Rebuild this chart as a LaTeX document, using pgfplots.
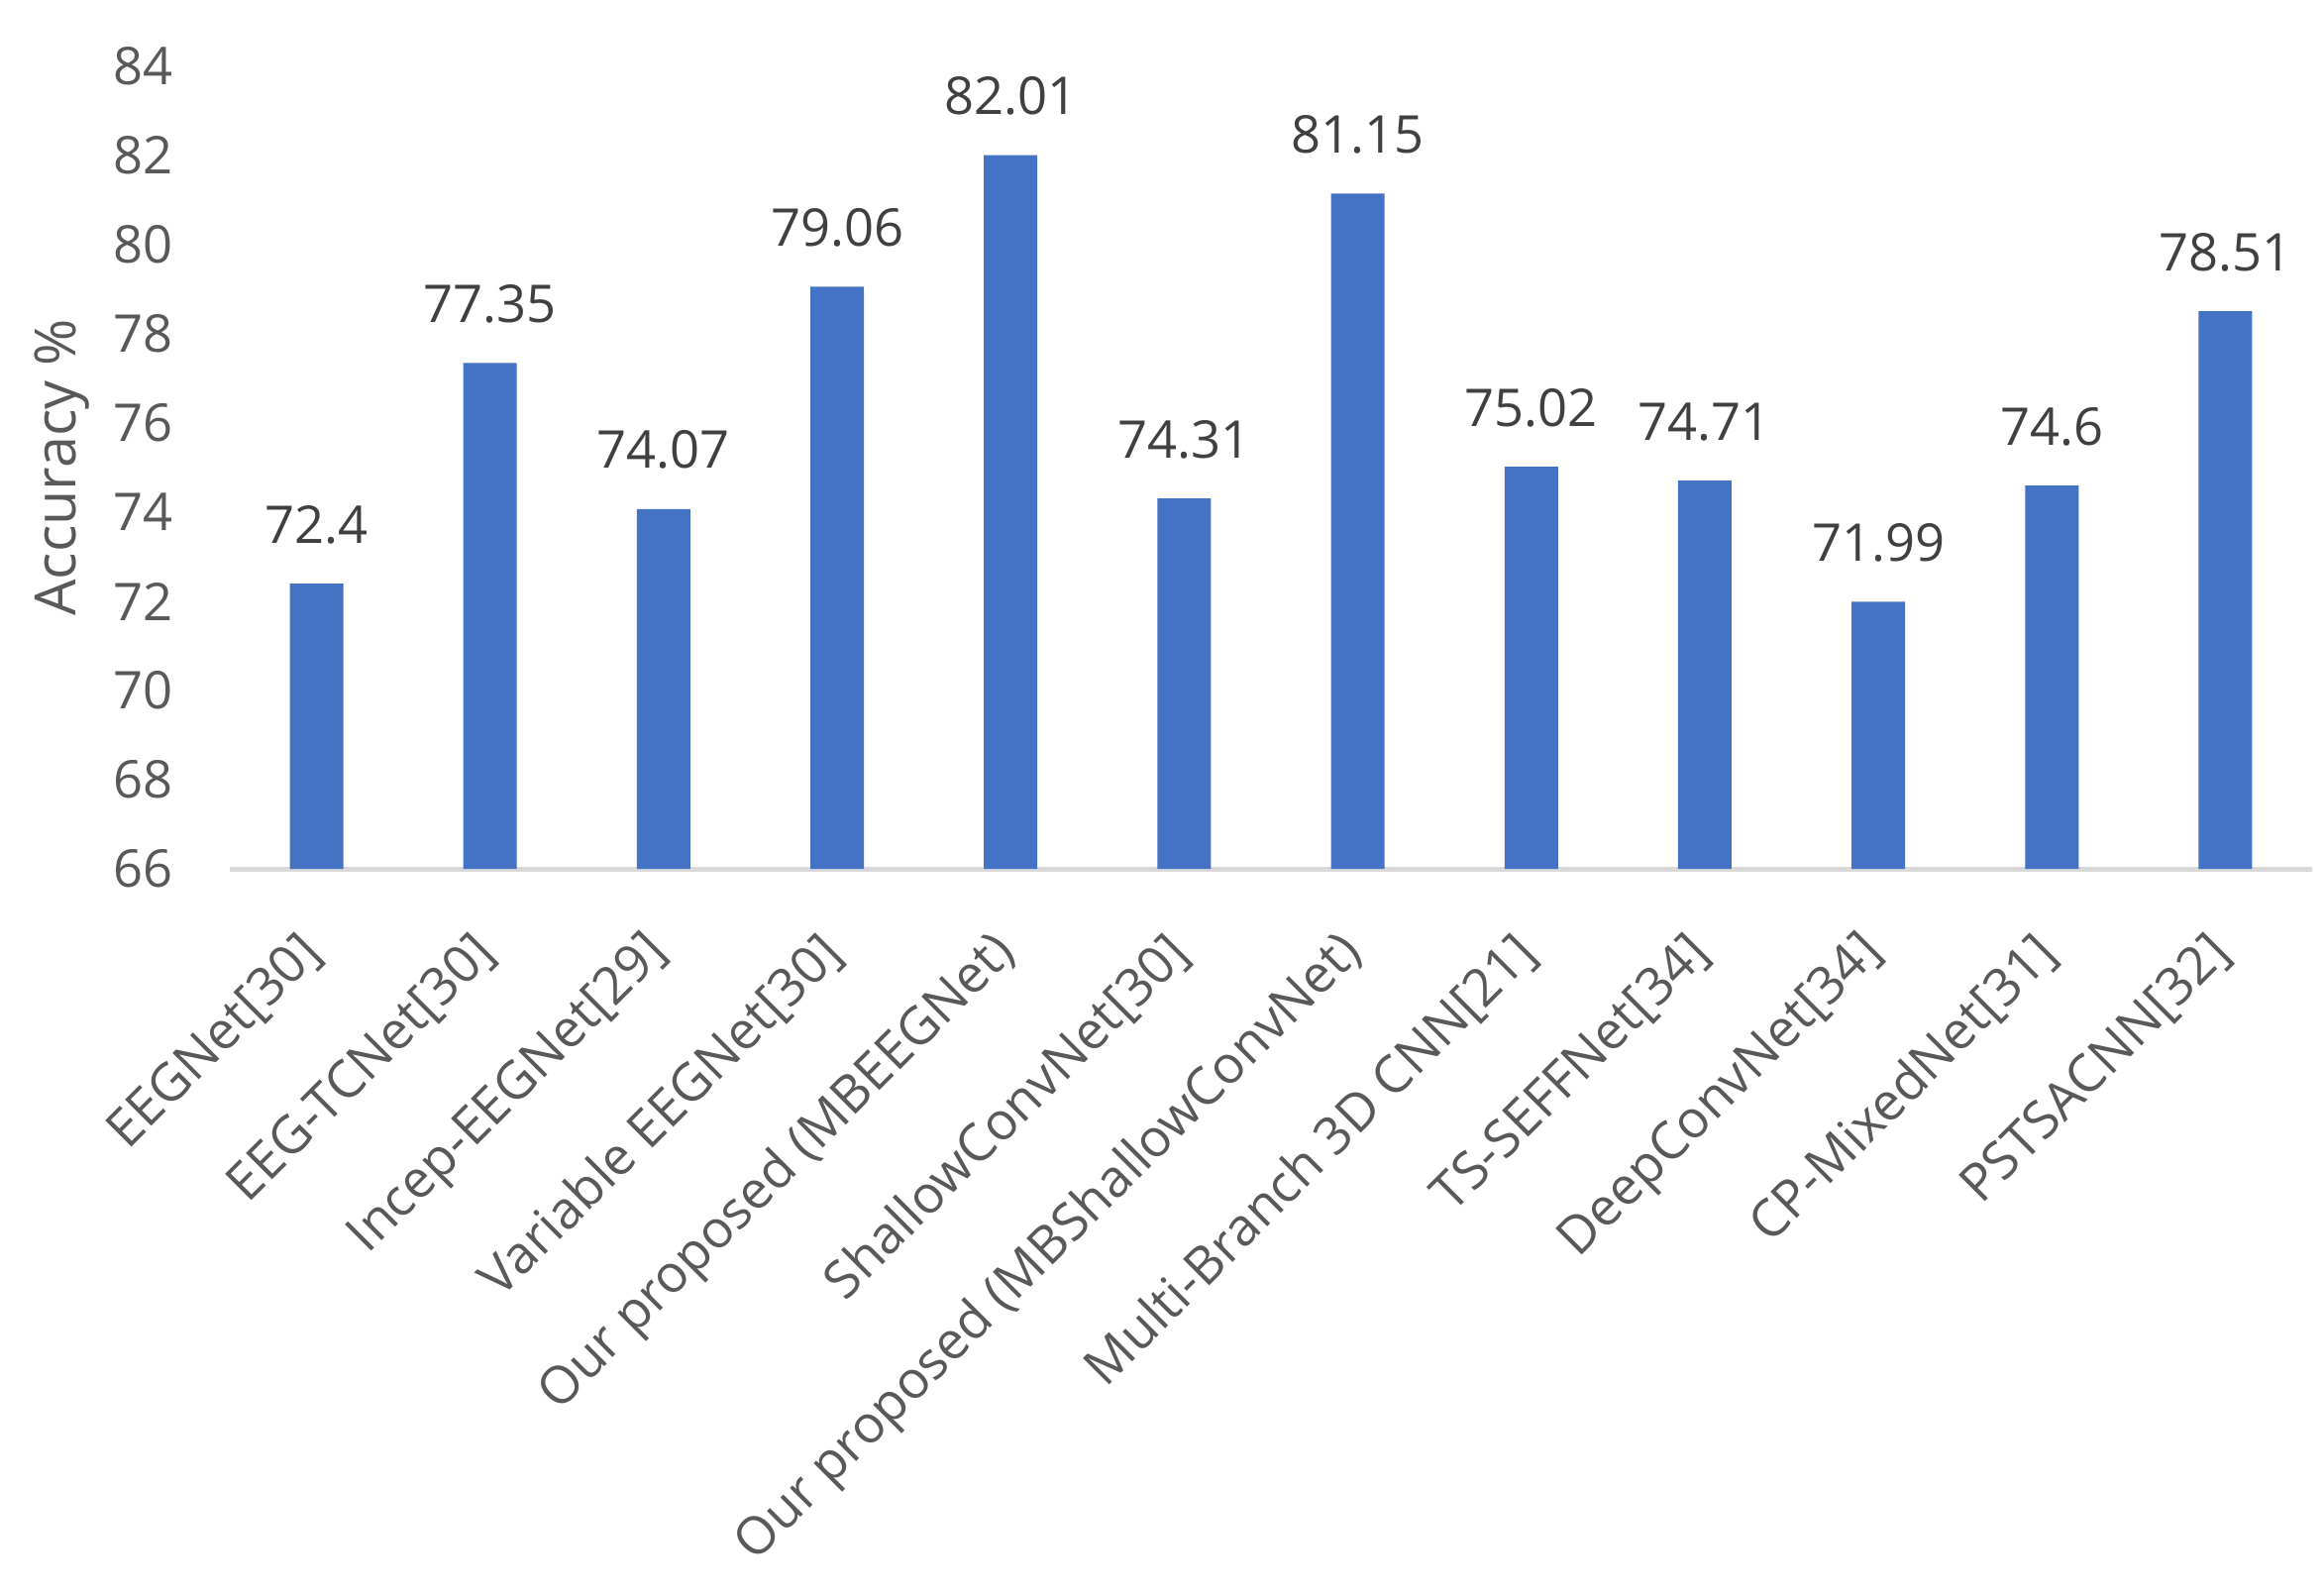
\documentclass[border=0pt]{standalone}
\usepackage{pgfplots}
\pgfplotsset{compat=1.18}
\usepackage{fontspec}
\setmainfont{Open Sans}
\definecolor{barblue}{HTML}{4472C4}
\definecolor{ticktext}{HTML}{595959}
\definecolor{labtext}{HTML}{404040}
\definecolor{axisgray}{HTML}{D9D9D9}
\begin{document}
\begin{tikzpicture}
\useasboundingbox (-46.4pt,-146.6pt) rectangle (422.8pt,175.4pt);
\begin{axis}[
  at={(0,0)}, anchor=south west,
  scale only axis, width=420.4pt, height=162pt,
  xmin=-0.5, xmax=11.5, ymin=66, ymax=84,
  ytick={66,68,...,84},
  xtick={0,...,11},
  xticklabels={EEGNet[30],EEG-TCNet[30],Incep-EEGNet[29],Variable EEGNet[30],Our proposed (MBEEGNet),ShallowConvNet[30],Our proposed (MBShallowConvNet),Multi-Branch 3D CNN[21],TS-SEFFNet[34],DeepConvNet[34],CP-MixedNet[31],PSTSACNN[32]},
  separate axis lines,
  axis x line*=bottom, axis y line*=left,
  y axis line style={draw=none},
  x axis line style={draw=axisgray, line width=1pt},
  major tick length=0pt,
  /pgf/number format/assume math mode=true,
  tick label style={color=ticktext, font=\fontsize{10.5}{12}\selectfont},
  yticklabel style={xshift=-8pt},
  xticklabel style={yshift=-15.2pt, xshift=-0.6pt, rotate=45, anchor=east, inner sep=0pt},
  ylabel={Accuracy \%},
  ylabel style={at={(axis description cs:-0.0804,0.5)}, anchor=center, color=ticktext, font=\fontsize{11.5}{13}\selectfont},
  ybar, bar width=10.8pt,
  nodes near coords,
  nodes near coords style={color=labtext, font=\fontsize{10.5}{12}\selectfont, anchor=south, yshift=4.5pt},
  clip=false,
]
\addplot[fill=barblue, draw=none] coordinates {
 (0,72.4) (1,77.35) (2,74.07) (3,79.06) (4,82.01) (5,74.31)
 (6,81.15) (7,75.02) (8,74.71) (9,71.99) (10,74.6) (11,78.51)
};
\end{axis}
\end{tikzpicture}
\end{document}
